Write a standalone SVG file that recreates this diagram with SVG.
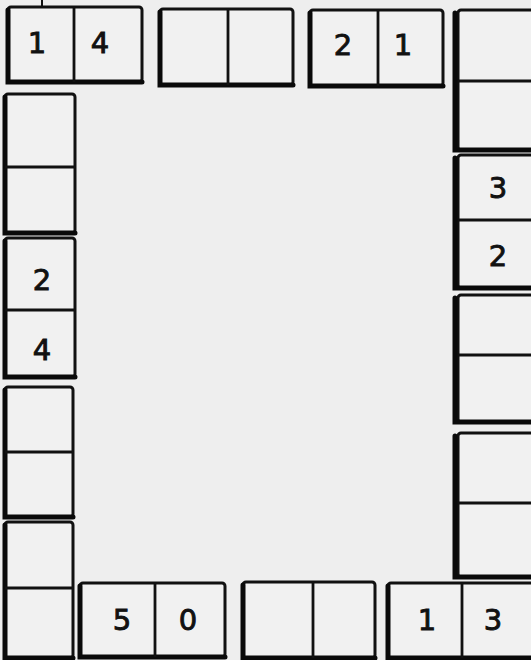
<svg xmlns="http://www.w3.org/2000/svg" width="531" height="660" viewBox="0 0 531 660">
<style>
.t{fill:#f1f1f1;stroke:#111;stroke-width:3}
.s{fill:none;stroke:#0a0a0a;stroke-width:5;stroke-linecap:round}
.d{stroke:#111;stroke-width:2.8}
.n{font-family:"DejaVu Sans",sans-serif;font-size:29px;fill:#111;stroke:#111;stroke-width:0.9;text-anchor:middle}
</style>
<rect width="531" height="660" fill="#eeeeee"/>
<line x1="42" y1="0" x2="42" y2="6" stroke="#111" stroke-width="2"/>
<g id="top1"><rect class="t" x="8" y="7" width="134" height="75" rx="3"/><path class="s" d="M8,10 V82 H142"/><line class="d" x1="74" y1="7" x2="74" y2="82"/><text class="n" x="37" y="53">1</text><text class="n" x="100" y="53">4</text></g>
<g id="top2"><rect class="t" x="160" y="9" width="133" height="76" rx="3"/><path class="s" d="M160,12 V85 H293"/><line class="d" x1="228" y1="9" x2="228" y2="85"/></g>
<g id="top3"><rect class="t" x="310" y="10" width="133" height="76" rx="3"/><path class="s" d="M310,13 V86 H443"/><line class="d" x1="378" y1="10" x2="378" y2="86"/><text class="n" x="343" y="55">2</text><text class="n" x="403" y="55">1</text></g>
<g id="right1"><rect class="t" x="458" y="10" width="80" height="140" rx="3"/><path class="s" d="M455,13 V150 H540"/><line class="d" x1="458" y1="81" x2="538" y2="81"/></g>
<g id="right2"><rect class="t" x="458" y="155" width="80" height="133" rx="3"/><path class="s" d="M455,158 V288 H540"/><line class="d" x1="458" y1="220" x2="538" y2="220"/><text class="n" x="498" y="198">3</text><text class="n" x="498" y="266">2</text></g>
<g id="right3"><rect class="t" x="458" y="295" width="80" height="127" rx="3"/><path class="s" d="M455,298 V422 H540"/><line class="d" x1="458" y1="355" x2="538" y2="355"/></g>
<g id="right4"><rect class="t" x="458" y="433" width="80" height="144" rx="3"/><path class="s" d="M455,436 V577 H540"/><line class="d" x1="458" y1="503" x2="538" y2="503"/></g>
<g id="left1"><rect class="t" x="5" y="94" width="70" height="139" rx="3"/><path class="s" d="M5,97 V233 H75"/><line class="d" x1="5" y1="167" x2="75" y2="167"/></g>
<g id="left2"><rect class="t" x="5" y="238" width="70" height="139" rx="3"/><path class="s" d="M5,241 V377 H75"/><line class="d" x1="5" y1="310" x2="75" y2="310"/><text class="n" x="42" y="290">2</text><text class="n" x="42" y="360">4</text></g>
<g id="left3"><rect class="t" x="5" y="387" width="68" height="130" rx="3"/><path class="s" d="M5,390 V517 H73"/><line class="d" x1="5" y1="452" x2="73" y2="452"/></g>
<g id="left4"><rect class="t" x="5" y="522" width="68" height="136" rx="3"/><path class="s" d="M5,525 V658 H73"/><line class="d" x1="5" y1="588" x2="73" y2="588"/></g>
<g id="bottom1"><rect class="t" x="80" y="583" width="145" height="74" rx="3"/><path class="s" d="M80,586 V657 H225"/><line class="d" x1="155" y1="583" x2="155" y2="657"/><text class="n" x="122" y="630">5</text><text class="n" x="188" y="630">0</text></g>
<g id="bottom2"><rect class="t" x="243" y="582" width="132" height="76" rx="3"/><path class="s" d="M243,585 V658 H375"/><line class="d" x1="313" y1="582" x2="313" y2="658"/></g>
<g id="bottom3"><rect class="t" x="388" y="583" width="150" height="75" rx="3"/><path class="s" d="M388,586 V658 H540"/><line class="d" x1="462" y1="583" x2="462" y2="658"/><text class="n" x="427" y="630">1</text><text class="n" x="493" y="630">3</text></g>
</svg>
